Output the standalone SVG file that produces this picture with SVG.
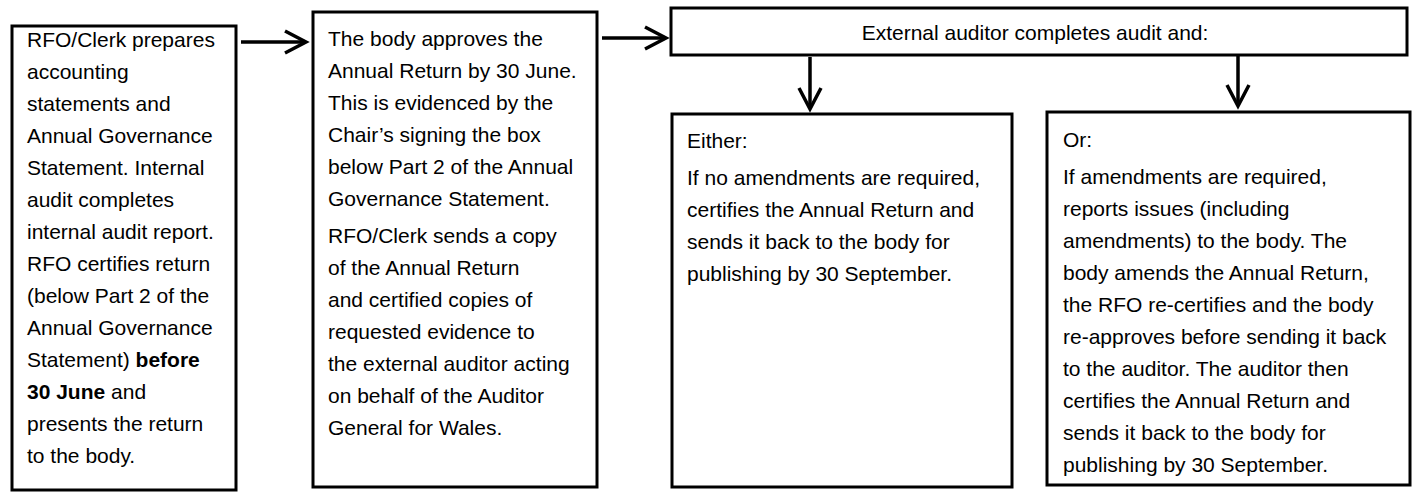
<svg xmlns="http://www.w3.org/2000/svg" width="1414" height="495" viewBox="0 0 1414 495">
<style>
.box{fill:#fff;stroke:#000;stroke-width:3}
.t{font-family:"Liberation Sans",Arial,sans-serif;font-size:21px;fill:#000}
.b{font-weight:bold}
.conn{stroke:#000;stroke-width:3.5;fill:none}
</style>
<defs>
<marker id="chev" markerUnits="userSpaceOnUse" markerWidth="30" markerHeight="30" refX="24" refY="14" orient="auto" viewBox="0 0 30 30">
<path d="M3,3 L24,14 L3,25" fill="none" stroke="#000" stroke-width="3.5" stroke-linejoin="miter"/>
</marker>
</defs>
<rect width="1414" height="495" fill="#fff"/>
<g id="node-prepare">
<rect class="box" x="12" y="26" width="224" height="464"/>
<text class="t" x="27" y="47">RFO/Clerk prepares</text>
<text class="t" x="27" y="79">accounting</text>
<text class="t" x="27" y="111">statements and</text>
<text class="t" x="27" y="143">Annual Governance</text>
<text class="t" x="27" y="175">Statement. Internal</text>
<text class="t" x="27" y="207">audit completes</text>
<text class="t" x="27" y="239">internal audit report.</text>
<text class="t" x="27" y="271">RFO certifies return</text>
<text class="t" x="27" y="303">(below Part 2 of the</text>
<text class="t" x="27" y="335">Annual Governance</text>
<text class="t" x="27" y="367">Statement) <tspan class="b">before</tspan></text>
<text class="t" x="27" y="399"><tspan class="b">30 June</tspan> and</text>
<text class="t" x="27" y="431">presents the return</text>
<text class="t" x="27" y="463">to the body.</text>
</g>
<g id="node-approve">
<rect class="box" x="313" y="12" width="284" height="475"/>
<text class="t" x="328" y="46">The body approves the</text>
<text class="t" x="328" y="78">Annual Return by 30 June.</text>
<text class="t" x="328" y="110">This is evidenced by the</text>
<text class="t" x="328" y="142">Chair’s signing the box</text>
<text class="t" x="328" y="174">below Part 2 of the Annual</text>
<text class="t" x="328" y="206">Governance Statement.</text>
<text class="t" x="328" y="243">RFO/Clerk sends a copy</text>
<text class="t" x="328" y="275">of the Annual Return</text>
<text class="t" x="328" y="307">and certified copies of</text>
<text class="t" x="328" y="339">requested evidence to</text>
<text class="t" x="328" y="371">the external auditor acting</text>
<text class="t" x="328" y="403">on behalf of the Auditor</text>
<text class="t" x="328" y="435">General for Wales.</text>
</g>
<g id="node-external">
<rect class="box" x="671" y="8" width="736" height="47"/>
<text class="t" x="1035" y="40" text-anchor="middle">External auditor completes audit and:</text>
</g>
<g id="node-either">
<rect class="box" x="672" y="114" width="340" height="373"/>
<text class="t" x="687" y="148">Either:</text>
<text class="t" x="687" y="185">If no amendments are required,</text>
<text class="t" x="687" y="217">certifies the Annual Return and</text>
<text class="t" x="687" y="249">sends it back to the body for</text>
<text class="t" x="687" y="281">publishing by 30 September.</text>
</g>
<g id="node-or">
<rect class="box" x="1047" y="112" width="363" height="373"/>
<text class="t" x="1063" y="147">Or:</text>
<text class="t" x="1063" y="184">If amendments are required,</text>
<text class="t" x="1063" y="216">reports issues (including</text>
<text class="t" x="1063" y="248">amendments) to the body. The</text>
<text class="t" x="1063" y="280">body amends the Annual Return,</text>
<text class="t" x="1063" y="312">the RFO re-certifies and the body</text>
<text class="t" x="1063" y="344">re-approves before sending it back</text>
<text class="t" x="1063" y="376">to the auditor. The auditor then</text>
<text class="t" x="1063" y="408">certifies the Annual Return and</text>
<text class="t" x="1063" y="440">sends it back to the body for</text>
<text class="t" x="1063" y="472">publishing by 30 September.</text>
</g>
<g id="connectors">
<line class="conn" x1="241" y1="42" x2="306" y2="42" marker-end="url(#chev)"/>
<line class="conn" x1="602" y1="38" x2="666" y2="38" marker-end="url(#chev)"/>
<line class="conn" x1="810" y1="57" x2="810" y2="109" marker-end="url(#chev)"/>
<line class="conn" x1="1238" y1="56" x2="1238" y2="106" marker-end="url(#chev)"/>
</g>
</svg>
